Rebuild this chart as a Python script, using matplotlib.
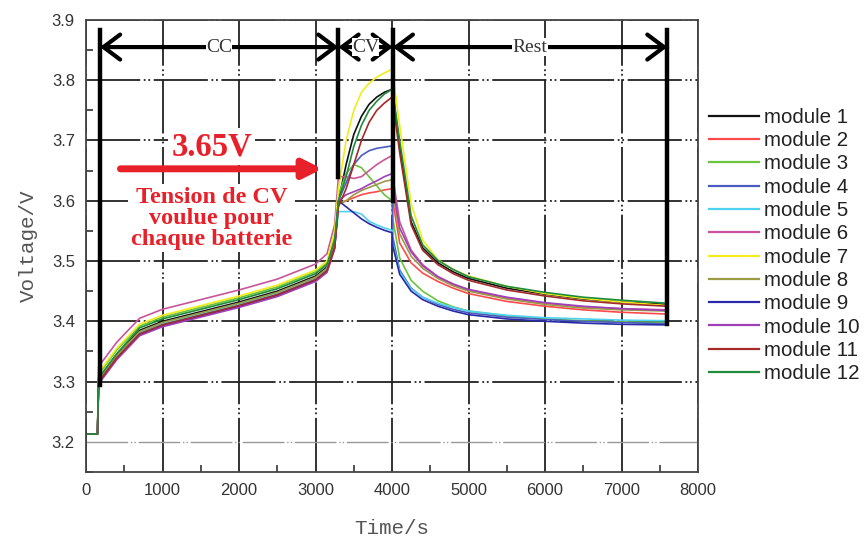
import numpy as np
import matplotlib.pyplot as plt
from matplotlib.ticker import MultipleLocator

# time axis shared by all modules (s)
time_s = [0, 150, 165, 400, 700, 1000, 1500, 2000, 2500, 3000, 3150, 3250,
          3300, 3400, 3500, 3600, 3700, 3800, 3900, 4000,
          4010, 4100, 4250, 4400, 4600, 4800, 5000, 5500, 6000, 6500, 7000, 7600]

# voltage per module (V): CC part, CV part, rest part
m1 = [3.213, 3.213, 3.305, 3.345, 3.385, 3.400, 3.416, 3.432, 3.450, 3.475, 3.490, 3.530,
      3.600, 3.660, 3.710, 3.740, 3.760, 3.772, 3.780, 3.785,
      3.780, 3.690, 3.565, 3.522, 3.497, 3.482, 3.471, 3.455, 3.445, 3.437, 3.432, 3.428]
m2 = [3.213, 3.213, 3.300, 3.340, 3.380, 3.396, 3.412, 3.428, 3.446, 3.471, 3.486, 3.525,
      3.595, 3.600, 3.605, 3.610, 3.613, 3.615, 3.618, 3.620,
      3.600, 3.530, 3.497, 3.480, 3.466, 3.455, 3.446, 3.433, 3.425, 3.419, 3.415, 3.412]
m3 = [3.213, 3.213, 3.312, 3.352, 3.392, 3.407, 3.423, 3.439, 3.457, 3.482, 3.497, 3.540,
      3.610, 3.645, 3.660, 3.655, 3.640, 3.625, 3.610, 3.600,
      3.570, 3.505, 3.468, 3.450, 3.434, 3.424, 3.417, 3.409, 3.404, 3.401, 3.399, 3.398]
m4 = [3.213, 3.213, 3.300, 3.340, 3.380, 3.395, 3.411, 3.427, 3.445, 3.470, 3.485, 3.525,
      3.600, 3.630, 3.660, 3.675, 3.683, 3.687, 3.689, 3.691,
      3.540, 3.485, 3.455, 3.440, 3.428, 3.420, 3.414, 3.407, 3.403, 3.400, 3.398, 3.396]
m5 = [3.213, 3.213, 3.302, 3.342, 3.382, 3.397, 3.413, 3.429, 3.447, 3.472, 3.487, 3.525,
      3.582, 3.582, 3.582, 3.578, 3.566, 3.560, 3.555, 3.551,
      3.530, 3.482, 3.454, 3.440, 3.430, 3.423, 3.417, 3.410, 3.406, 3.404, 3.402, 3.401]
m6 = [3.213, 3.213, 3.325, 3.365, 3.405, 3.420, 3.436, 3.452, 3.470, 3.495, 3.512, 3.560,
      3.640, 3.640, 3.637, 3.640, 3.650, 3.660, 3.668, 3.675,
      3.640, 3.565, 3.518, 3.494, 3.474, 3.461, 3.452, 3.439, 3.430, 3.424, 3.421, 3.419]
m7 = [3.213, 3.213, 3.315, 3.355, 3.395, 3.410, 3.426, 3.442, 3.460, 3.485, 3.500, 3.550,
      3.620, 3.700, 3.750, 3.780, 3.795, 3.805, 3.812, 3.818,
      3.810, 3.725, 3.595, 3.535, 3.502, 3.486, 3.475, 3.458, 3.446, 3.438, 3.432, 3.426]
m8 = [3.213, 3.213, 3.303, 3.343, 3.383, 3.398, 3.414, 3.430, 3.448, 3.473, 3.488, 3.528,
      3.595, 3.600, 3.610, 3.617, 3.622, 3.627, 3.632, 3.635,
      3.615, 3.545, 3.508, 3.488, 3.471, 3.459, 3.450, 3.437, 3.428, 3.422, 3.419, 3.417]
m9 = [3.213, 3.213, 3.298, 3.338, 3.378, 3.393, 3.409, 3.425, 3.443, 3.468, 3.483, 3.522,
      3.600, 3.590, 3.580, 3.570, 3.562, 3.556, 3.551, 3.547,
      3.525, 3.478, 3.450, 3.436, 3.425, 3.417, 3.411, 3.404, 3.400, 3.397, 3.395, 3.394]
m10 = [3.213, 3.213, 3.296, 3.336, 3.376, 3.391, 3.407, 3.423, 3.441, 3.466, 3.481, 3.520,
       3.600, 3.610, 3.615, 3.620, 3.627, 3.633, 3.640, 3.645,
       3.625, 3.555, 3.515, 3.492, 3.474, 3.462, 3.453, 3.440, 3.431, 3.425, 3.421, 3.418]
m11 = [3.213, 3.213, 3.299, 3.339, 3.379, 3.394, 3.410, 3.426, 3.444, 3.469, 3.484, 3.522,
       3.590, 3.620, 3.660, 3.700, 3.730, 3.750, 3.762, 3.772,
       3.765, 3.680, 3.560, 3.518, 3.494, 3.479, 3.468, 3.452, 3.442, 3.434, 3.429, 3.425]
m12 = [3.213, 3.213, 3.306, 3.346, 3.389, 3.404, 3.420, 3.436, 3.454, 3.479, 3.494, 3.535,
       3.600, 3.640, 3.690, 3.725, 3.750, 3.765, 3.777, 3.785,
       3.780, 3.700, 3.575, 3.527, 3.501, 3.486, 3.474, 3.458, 3.448, 3.440, 3.435, 3.430]

modules = [m1, m2, m3, m4, m5, m6, m7, m8, m9, m10, m11, m12]
labels = ['module %d' % (i + 1) for i in range(12)]
colors = ['#111111', '#ff4a4a', '#6cc43c', '#4a5cc0', '#4fd2f0', '#c8559b',
          '#f2ec1c', '#9c9a45', '#2a2aa8', '#a040b8', '#a52a2a', '#1e8c3c']

# phase boundaries (s)
phase_x = [183, 3300, 4010, 7600]
phase_names = ['CC', 'CV', 'Rest']

fig = plt.figure(figsize=(8.67, 5.39), dpi=100)
ax = fig.add_axes([0.0992, 0.1243, 0.7059, 0.8387])

for v, lab, c in zip(modules, labels, colors):
    ax.plot(time_s, v, color=c, lw=1.2, label=lab)

ax.set_xlim(0, 8000)
ax.set_ylim(3.15, 3.9)
ax.xaxis.set_major_locator(MultipleLocator(1000))
ax.xaxis.set_minor_locator(MultipleLocator(500))
ax.yaxis.set_major_locator(MultipleLocator(0.1))
ax.yaxis.set_minor_locator(MultipleLocator(0.05))
ax.yaxis.set_major_formatter(plt.FuncFormatter(lambda y, p: '%.1f' % y))
ax.tick_params(which='both', direction='in', top=False, right=False,
               labelsize=12, labelcolor='#333333', colors='#333333')
ax.tick_params(which='major', length=0, pad=8)
ax.tick_params(which='minor', length=5, width=1.2)
for s in ax.spines.values():
    s.set_color('#444444')
    s.set_linewidth(1.3)

ax.grid(True, which='major', color='#222222', lw=1.3,
        linestyle=(0, (30, 2, 1, 1.5, 1, 2)))
ax.set_axisbelow(True)
# the 3.2 V line is drawn lighter in the original
for gl, loc in zip(ax.get_ygridlines(), ax.get_yticks()):
    if abs(loc - 3.2) < 1e-6:
        gl.set_color('#999999')
        gl.set_linewidth(1.0)

for lab_font in ax.get_xticklabels() + ax.get_yticklabels():
    lab_font.set_fontfamily('Liberation Sans')

ax.set_xlabel('Time/s', fontsize=15, color='#555555', family='Liberation Mono', labelpad=15)
ax.set_ylabel('Voltage/V', fontsize=15, color='#555555', family='Liberation Mono', labelpad=10)

# phase markers
y_arrow = 3.855
ax.plot([phase_x[0], phase_x[0]], [3.295, 3.883], color='k', lw=3.2, zorder=5)
ax.plot([phase_x[1], phase_x[1]], [3.64, 3.883], color='k', lw=3.2, zorder=5)
ax.plot([phase_x[2], phase_x[2]], [3.60, 3.883], color='k', lw=3.2, zorder=5)
ax.plot([phase_x[3], phase_x[3]], [3.395, 3.883], color='k', lw=3.2, zorder=5)
for i, name in enumerate(phase_names):
    ax.annotate('', xy=(phase_x[i], y_arrow), xytext=(phase_x[i + 1], y_arrow),
                arrowprops=dict(arrowstyle='<->,head_length=0.6,head_width=0.45',
                                color='k', lw=3, mutation_scale=20,
                                shrinkA=0, shrinkB=0), zorder=6)
    ax.text((phase_x[i] + phase_x[i + 1]) / 2, y_arrow, name, fontsize=14,
            family='Liberation Serif', color='#333333', ha='center', va='center',
            bbox=dict(facecolor='white', edgecolor='none', pad=0.2), zorder=7)

# red annotation
red = '#e8202a'
ax.annotate('', xy=(3090, 3.653), xytext=(450, 3.653),
            arrowprops=dict(arrowstyle='-|>', color=red, lw=5, mutation_scale=28,
                            shrinkA=0, shrinkB=0), zorder=6)
ax.text(1640, 3.69, '3.65V', fontsize=23.5, fontweight='bold', family='Liberation Serif',
        color=red, ha='center', va='center',
        bbox=dict(facecolor='white', edgecolor='none', pad=2), zorder=6)
ax.text(1640, 3.571, 'Tension de CV\nvoulue pour\nchaque batterie', fontsize=17.5,
        fontweight='bold', family='Liberation Serif', color=red, ha='center', va='center',
        linespacing=1.0, bbox=dict(facecolor='white', edgecolor='none', pad=2), zorder=6)

leg = ax.legend(loc='upper left', bbox_to_anchor=(0.818, 0.800),
                bbox_transform=fig.transFigure, frameon=False,
                prop={'family': 'Liberation Sans', 'size': 14.8},
                handlelength=2.4, handletextpad=0.25, labelspacing=0.21,
                borderaxespad=0, borderpad=0)
for t in leg.get_texts():
    t.set_color('#222222')
for h in leg.legend_handles:
    h.set_linewidth(1.6)

fig.savefig('out.png', dpi=100)
